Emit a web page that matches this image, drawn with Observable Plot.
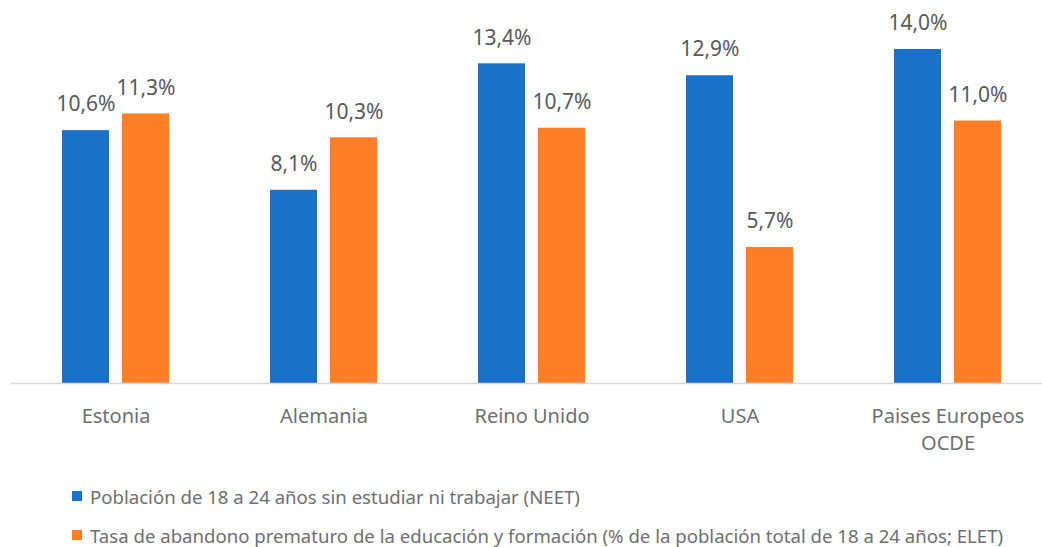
<!DOCTYPE html>
<html><head><meta charset="utf-8">
<script src="https://cdn.jsdelivr.net/npm/d3@7"></script>
<script src="https://cdn.jsdelivr.net/npm/@observablehq/plot@0.6"></script>
<style>
body{margin:0;background:#fff;overflow:hidden;width:1042px;height:547px;font-family:"Noto Sans",sans-serif;}
#legend{position:absolute;left:72px;top:485px;color:#6f6f6f;font-size:18.6px;}
.li{display:flex;align-items:center;height:22px;margin-bottom:17px;white-space:nowrap;}
.sw{width:10px;height:10px;margin-right:8px;}
</style></head>
<body>
<div id="chart"></div>
<div id="legend"></div>
<script>
const categories = ["Estonia","Alemania","Reino Unido","USA","Paises Europeos OCDE"];
const seriesNames = ["Población de 18 a 24 años sin estudiar ni trabajar (NEET)",
 "Tasa de abandono prematuro de la educación y formación (% de la población total de 18 a 24 años; ELET)"];
const neet = [10.6, 8.1, 13.4, 12.9, 14.0];
const elet = [11.3, 10.3, 10.7, 5.7, 11.0];
const colors = ["#1a71c9", "#ff7f27"];

const data = [];
categories.forEach((c,i)=>{
  data.push({cat:c, series:seriesNames[0], v:neet[i]});
  data.push({cat:c, series:seriesNames[1], v:elet[i]});
});
const fmt = v => v.toFixed(1).replace(".", ",") + "%";

const plot = Plot.plot({
  width: 1052, height: 470,
  marginLeft: 12, marginRight: 0, marginTop: 49, marginBottom: 87,
  style: {fontFamily: "Noto Sans, sans-serif", background: "#fff", overflow: "visible", maxWidth: "none"},
  fx: {domain: categories, paddingInner: 0.485, paddingOuter: 0.2425, axis: null},
  x: {domain: seriesNames, paddingInner: 0.217, paddingOuter: 0, axis: null},
  y: {domain: [0, 14], axis: null},
  color: {domain: seriesNames, range: colors},
  marks: [
    Plot.barY(data, {fx:"cat", x:"series", y:"v", fill:"series"}),
    Plot.text(data, {fx:"cat", x:"series", y:"v", text: d=>fmt(d.v), dy:-26, fontSize:21, fill:"#595959", lineAnchor:"middle"}),
    Plot.text(categories, {fx: d=>d, frameAnchor:"bottom", text: d=> d==="Paises Europeos OCDE" ? "Paises Europeos\nOCDE" : d, dy: 20, lineAnchor:"top", lineHeight:1.35, fontSize:20, fill:"#6f6f6f"}),
  ]
});
plot.style.maxWidth = "none";
const svg = d3.select(plot);
svg.append("line").attr("x1",10).attr("x2",1052).attr("y1",383.5).attr("y2",383.5).attr("stroke","#d9d9d9").attr("stroke-width",1.5);
document.getElementById("chart").appendChild(plot);

const leg = document.getElementById("legend");
seriesNames.forEach((s,i)=>{
  const d = document.createElement("div"); d.className="li";
  d.innerHTML = `<span class="sw" style="background:${colors[i]}"></span><span>${s}</span>`;
  leg.appendChild(d);
});
</script>
</body></html>
